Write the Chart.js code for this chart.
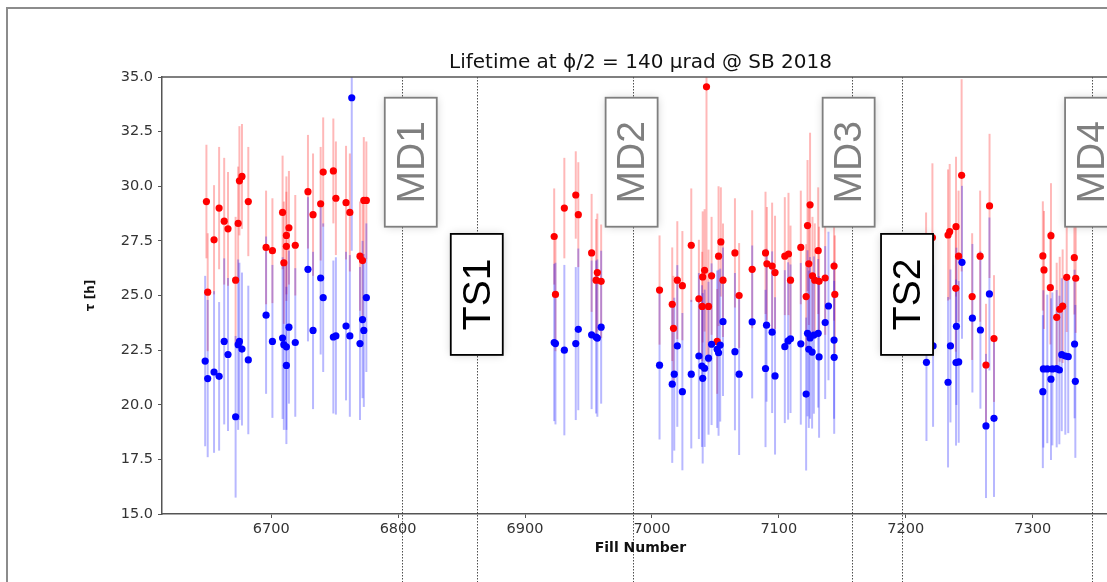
<!DOCTYPE html>
<html>
<head>
<meta charset="utf-8">
<script src="https://cdn.jsdelivr.net/npm/chart.js@4.4.0/dist/chart.umd.min.js"></script>
<style>
  html, body { margin: 0; padding: 0; background: #fff; overflow: hidden; width: 1107px; height: 582px; }
  #frame { position: absolute; left: 6px; top: 7px; width: 1250px; height: 700px; border: 2px solid #8c8c8c; box-sizing: border-box; }
  #chart { position: absolute; left: 0; top: 0; }
</style>
</head>
<body>
<div id="frame"></div>
<canvas id="chart" width="1200" height="600"></canvas>
<script>
// lifetime per fill, red series
const redX = [6649, 6650, 6655, 6659, 6663, 6666, 6672, 6674, 6675, 6677, 6682, 6696, 6701, 6709, 6710, 6712, 6712, 6714, 6719, 6729, 6733, 6739, 6741, 6749, 6751, 6759, 6762, 6770, 6772, 6773, 6775,
  6923, 6924, 6931, 6940, 6942, 6952.5, 6956, 6957, 6960,
  7006, 7016, 7017, 7020, 7024, 7031, 7037, 7039.6, 7040, 7041.5, 7043, 7044.6, 7047, 7051.4, 7052.5, 7054.3, 7056, 7065.4, 7068.7, 7079, 7089.5, 7090.6, 7094.7, 7097, 7104.7, 7107.6, 7109.2, 7117.3, 7121.5, 7122.6, 7123.6, 7124.6, 7126.5, 7128.3, 7131, 7131.7, 7136.5, 7143.5, 7144.1,
  7216, 7221, 7233.3, 7234.6, 7239.6, 7239.4, 7241.6, 7244, 7252.3, 7258.6, 7263.2, 7266, 7269.5,
  7308, 7308.9, 7314.4, 7313.9, 7318.9, 7321.3, 7323.6, 7326.8, 7332.8, 7333.9];
const redY = [29.3, 25.15, 27.55, 29.0, 28.4, 28.05, 25.7, 28.3, 30.25, 30.45, 29.3, 27.2, 27.05, 28.8, 26.5, 27.25, 27.75, 28.1, 27.3, 29.75, 28.7, 29.2, 30.65, 30.7, 29.45, 29.25, 28.8, 26.8, 26.6, 29.35, 29.35,
  27.7, 25.05, 29.0, 29.6, 28.7, 26.95, 25.7, 26.05, 25.65,
  25.25, 24.6, 23.5, 25.7, 25.45, 27.3, 24.85, 24.5, 25.85, 26.15, 34.55, 24.5, 25.9, 22.9, 26.8, 27.45, 25.7, 26.95, 25.0, 26.2, 26.95, 26.45, 26.35, 26.05, 26.8, 26.9, 25.7, 27.2, 24.95, 28.2, 26.45, 29.15, 25.9, 25.7, 27.05, 25.65, 25.8, 26.35, 25.05,
  26.0, 27.65, 27.77, 27.92, 28.15, 25.33, 26.8, 30.5, 24.95, 26.8, 21.82, 29.1, 23.03,
  26.81, 26.17, 27.74, 25.36, 24.0, 24.37, 24.51, 25.83, 26.73, 25.79];
const redErr = [2.6, 2.7, 2.5, 2.8, 2.9, 2.6, 2.9, 2.6, 2.5, 2.4, 2.5, 2.6, 2.4, 2.6, 2.8, 2.5, 2.7, 2.6, 2.3, 2.6, 2.8, 2.6, 2.5, 2.4, 2.6, 2.6, 2.7, 2.5, 2.6, 2.9, 2.7,
  2.2, 2.6, 2.3, 2.0, 2.4, 2.7, 2.8, 2.7, 2.6,
  2.5, 2.6, 2.4, 2.7, 2.5, 2.6, 2.7, 2.5, 3.0, 2.8, 12.5, 2.6, 2.7, 2.4, 3.2, 2.5, 2.6, 2.5, 2.4, 2.7, 2.8, 2.6, 2.9, 2.6, 2.7, 2.8, 2.5, 2.6, 2.4, 3.0, 2.8, 3.3, 2.7, 2.6, 2.9, 2.5, 2.6, 2.5, 2.7,
  2.8, 3.4, 3.0, 3.1, 3.2, 2.9, 3.0, 4.4, 2.9, 3.0, 2.8, 3.3, 2.9,
  2.5, 2.7, 2.4, 2.6, 2.5, 2.4, 2.6, 2.5, 2.6, 2.5];

// lifetime per fill, blue series
const blueX = [6648, 6650, 6655, 6659, 6663, 6666, 6672, 6674, 6675, 6677, 6682, 6696, 6701, 6709, 6710, 6712, 6712, 6714, 6719, 6729, 6733, 6739, 6741, 6749, 6751, 6759, 6762, 6763.5, 6770, 6772, 6773, 6775,
  6923, 6924, 6931, 6940, 6942, 6952.5, 6956, 6957, 6960,
  7006, 7016, 7017.6, 7020, 7024, 7031, 7037, 7039.4, 7040, 7041.5, 7044.6, 7047, 7051.4, 7052.5, 7053.8, 7056, 7065.4, 7068.7, 7079, 7089.5, 7090.3, 7094.7, 7097, 7104.7, 7107.3, 7109.2, 7117.3, 7121.5, 7122.6, 7123.6, 7124.6, 7126.2, 7127.6, 7131, 7131.7, 7136.5, 7139.1, 7143.5, 7143.6,
  7216.3, 7221.5, 7233.3, 7235.2, 7239.6, 7241.7, 7239.9, 7244.3, 7252.5, 7258.8, 7265.9, 7263.2, 7269.5,
  7308, 7308.4, 7311.5, 7314.4, 7315.5, 7318.9, 7321, 7322.9, 7325.7, 7328, 7333, 7333.6];
const blueY = [22.0, 21.2, 21.5, 21.3, 22.9, 22.3, 19.45, 22.75, 22.9, 22.55, 22.05, 24.1, 22.9, 23.05, 22.75, 22.65, 21.8, 23.55, 22.85, 26.2, 23.4, 25.8, 24.9, 23.1, 23.15, 23.6, 23.15, 34.05, 22.8, 23.9, 23.4, 24.9,
  22.85, 22.8, 22.5, 22.8, 23.45, 23.2, 23.1, 23.05, 23.55,
  21.81, 20.94, 21.4, 22.69, 20.6, 21.4, 22.23, 21.77, 21.21, 21.67, 22.13, 22.77, 22.54, 22.38, 22.73, 23.8, 22.43, 21.4, 23.79, 21.66, 23.64, 23.32, 21.32, 22.66, 22.92, 23.02, 22.79, 20.49, 23.27, 22.54, 23.06, 22.41, 23.19, 23.27, 22.19, 23.76, 24.52, 22.96, 22.17,
  21.94, 22.69, 21.03, 22.69, 21.93, 21.96, 23.59, 26.52, 23.96, 23.42, 25.07, 19.03, 19.38,
  20.6, 21.64, 21.64, 21.17, 21.64, 21.65, 21.59, 22.29, 22.23, 22.2, 22.78, 21.07];
const blueErr = [3.9, 3.6, 3.7, 3.4, 3.8, 3.5, 3.7, 3.9, 3.6, 3.5, 3.4, 3.6, 3.5, 3.7, 3.9, 3.8, 3.6, 3.5, 3.4, 3.3, 3.6, 3.5, 3.4, 3.5, 3.6, 3.4, 3.7, 7.0, 3.5, 3.6, 3.5, 3.4,
  3.6, 3.7, 3.9, 3.5, 3.7, 3.4, 3.5, 3.6, 3.5,
  3.4, 3.6, 3.5, 3.7, 3.6, 3.4, 3.8, 3.7, 3.9, 3.6, 3.5, 3.7, 3.6, 3.8, 3.5, 3.4, 3.6, 3.7, 3.5, 3.6, 3.5, 3.7, 3.6, 3.5, 3.6, 3.4, 3.7, 3.5, 3.8, 3.6, 3.7, 3.5, 3.6, 3.4, 3.7, 3.5, 3.4, 3.6, 3.5,
  3.6, 3.7, 3.9, 3.5, 3.8, 3.7, 3.6, 3.5, 3.4, 3.6, 3.5, 3.3, 3.6,
  3.5, 3.6, 3.4, 3.7, 3.5, 3.6, 3.4, 3.5, 3.6, 3.5, 3.4, 3.5];

// machine development blocks and technical stops
const mdLabels = ['MD1', 'MD2', 'MD3', 'MD4'];
const mdLines = [6803, 6985, 7158, 7347];
const mdTextX = [6810, 6984, 7155, 7346];
const tsLabels = ['TS1', 'TS2'];
const tsLines = [6862, 7197];
const tsTextX = [6862, 7201];
const mdTextY = 31.1;
const tsTextY = 25.05;

const xTicks = [6700, 6800, 6900, 7000, 7100, 7200, 7300];
const yTicks = [15, 17.5, 20, 22.5, 25, 27.5, 30, 32.5, 35];

const toPoints = (xs, ys) => xs.map((v, i) => ({ x: v, y: ys[i] }));

const overlay = {
  id: 'overlay',
  beforeDatasetsDraw(chart) {
    const { ctx, chartArea: a, scales: { x, y } } = chart;
    // dotted markers for MD / TS periods
    ctx.save();
    ctx.strokeStyle = '#222';
    ctx.lineWidth = 0.8;
    ctx.setLineDash([1.5, 1.5]);
    mdLines.concat(tsLines).forEach(v => {
      const px = Math.round(x.getPixelForValue(v)) + 0.5;
      ctx.beginPath();
      ctx.moveTo(px, a.top);
      ctx.lineTo(px, chart.height);
      ctx.stroke();
    });
    ctx.restore();

    // error bars
    ctx.save();
    ctx.beginPath();
    ctx.rect(a.left, a.top, a.right - a.left, a.bottom - a.top);
    ctx.clip();
    ctx.lineWidth = 2;
    const bars = (xs, ys, es, col) => {
      ctx.strokeStyle = col;
      xs.forEach((v, i) => {
        const px = x.getPixelForValue(v);
        ctx.beginPath();
        ctx.moveTo(px, y.getPixelForValue(ys[i] - es[i]));
        ctx.lineTo(px, y.getPixelForValue(ys[i] + es[i]));
        ctx.stroke();
      });
    };
    bars(redX, redY, redErr, 'rgba(255,0,0,0.28)');
    bars(blueX, blueY, blueErr, 'rgba(0,0,255,0.28)');
    ctx.restore();
  },
  afterDraw(chart) {
    const { ctx, chartArea: a, scales: { x, y } } = chart;
    // top spine
    ctx.save();
    ctx.strokeStyle = '#555';
    ctx.lineWidth = 1.5;
    ctx.beginPath();
    ctx.moveTo(a.left, a.top);
    ctx.lineTo(a.right, a.top);
    ctx.stroke();
    ctx.restore();

    const box = (text, v, yv, w, h, col) => {
      const cx = x.getPixelForValue(v);
      const cy = y.getPixelForValue(yv);
      ctx.save();
      ctx.shadowColor = 'rgba(0,0,0,0.22)';
      ctx.shadowBlur = 9;
      ctx.fillStyle = '#fff';
      ctx.fillRect(cx - w / 2, cy - h / 2, w, h);
      ctx.restore();
      ctx.save();
      ctx.strokeStyle = col;
      ctx.lineWidth = 1.8;
      ctx.strokeRect(cx - w / 2, cy - h / 2, w, h);
      ctx.translate(cx + 1, cy);
      ctx.rotate(-Math.PI / 2);
      ctx.fillStyle = col;
      ctx.font = '39px "Liberation Sans", Arial, sans-serif';
      ctx.textAlign = 'center';
      ctx.textBaseline = 'middle';
      ctx.fillText(text, 0, 1);
      ctx.restore();
    };
    mdLabels.forEach((t, i) => box(t, mdTextX[i], mdTextY, 52, 129, '#7f7f7f'));
    tsLabels.forEach((t, i) => box(t, tsTextX[i], tsTextY, 52, 121, '#000'));
  }
};

new Chart(document.getElementById('chart'), {
  type: 'scatter',
  data: {
    datasets: [
      {
        label: 'blue',
        data: toPoints(blueX, blueY),
        pointRadius: 3.6,
        pointBackgroundColor: '#0000ff',
        pointBorderWidth: 0
      },
      {
        label: 'red',
        data: toPoints(redX, redY),
        pointRadius: 3.6,
        pointBackgroundColor: '#ff0000',
        pointBorderWidth: 0
      }
    ]
  },
  options: {
    responsive: false,
    animation: false,
    devicePixelRatio: 1,
    layout: { padding: { left: 80, right: 81, top: 0, bottom: 0 } },
    plugins: {
      legend: { display: false },
      tooltip: { enabled: false },
      title: {
        display: true,
        fullSize: false,
        text: 'Lifetime at ϕ/2 = 140 μrad @ SB 2018',
        color: '#111',
        font: { family: 'DejaVu Sans', size: 20, weight: 'normal' },
        padding: { top: 51, bottom: 2 }
      }
    },
    scales: {
      x: {
        type: 'linear',
        min: 6614,
        max: 7368,
        afterBuildTicks: s => { s.ticks = xTicks.map(v => ({ value: v })); },
        afterFit: s => { s.height = 86; },
        ticks: {
          color: '#333',
          font: { family: 'DejaVu Sans', size: 14.5 },
          padding: 3,
          maxRotation: 0,
          callback: v => String(v)
        },
        grid: { display: true, drawOnChartArea: false, drawTicks: true, tickLength: 4, color: '#555' },
        border: { display: true, color: '#555', width: 1.5 },
        title: {
          display: true,
          text: 'Fill Number',
          color: '#111',
          font: { family: 'DejaVu Sans', size: 14, weight: 'bold' },
          padding: { top: 0, bottom: 43 }
        }
      },
      y: {
        type: 'linear',
        min: 15,
        max: 35,
        afterBuildTicks: s => { s.ticks = yTicks.map(v => ({ value: v })); },
        afterFit: s => { s.width = 82; },
        ticks: {
          color: '#333',
          font: { family: 'DejaVu Sans', size: 14.5 },
          padding: 5,
          callback: v => v.toFixed(1)
        },
        grid: { display: true, drawOnChartArea: false, drawTicks: true, tickLength: 4, color: '#555' },
        border: { display: true, color: '#555', width: 1.5 },
        title: {
          display: true,
          text: 'τ [h]',
          color: '#111',
          font: { family: 'DejaVu Sans', size: 12, weight: 'bold' },
          padding: { top: 4, bottom: 0 }
        }
      }
    }
  },
  plugins: [overlay]
});
</script>
</body>
</html>
